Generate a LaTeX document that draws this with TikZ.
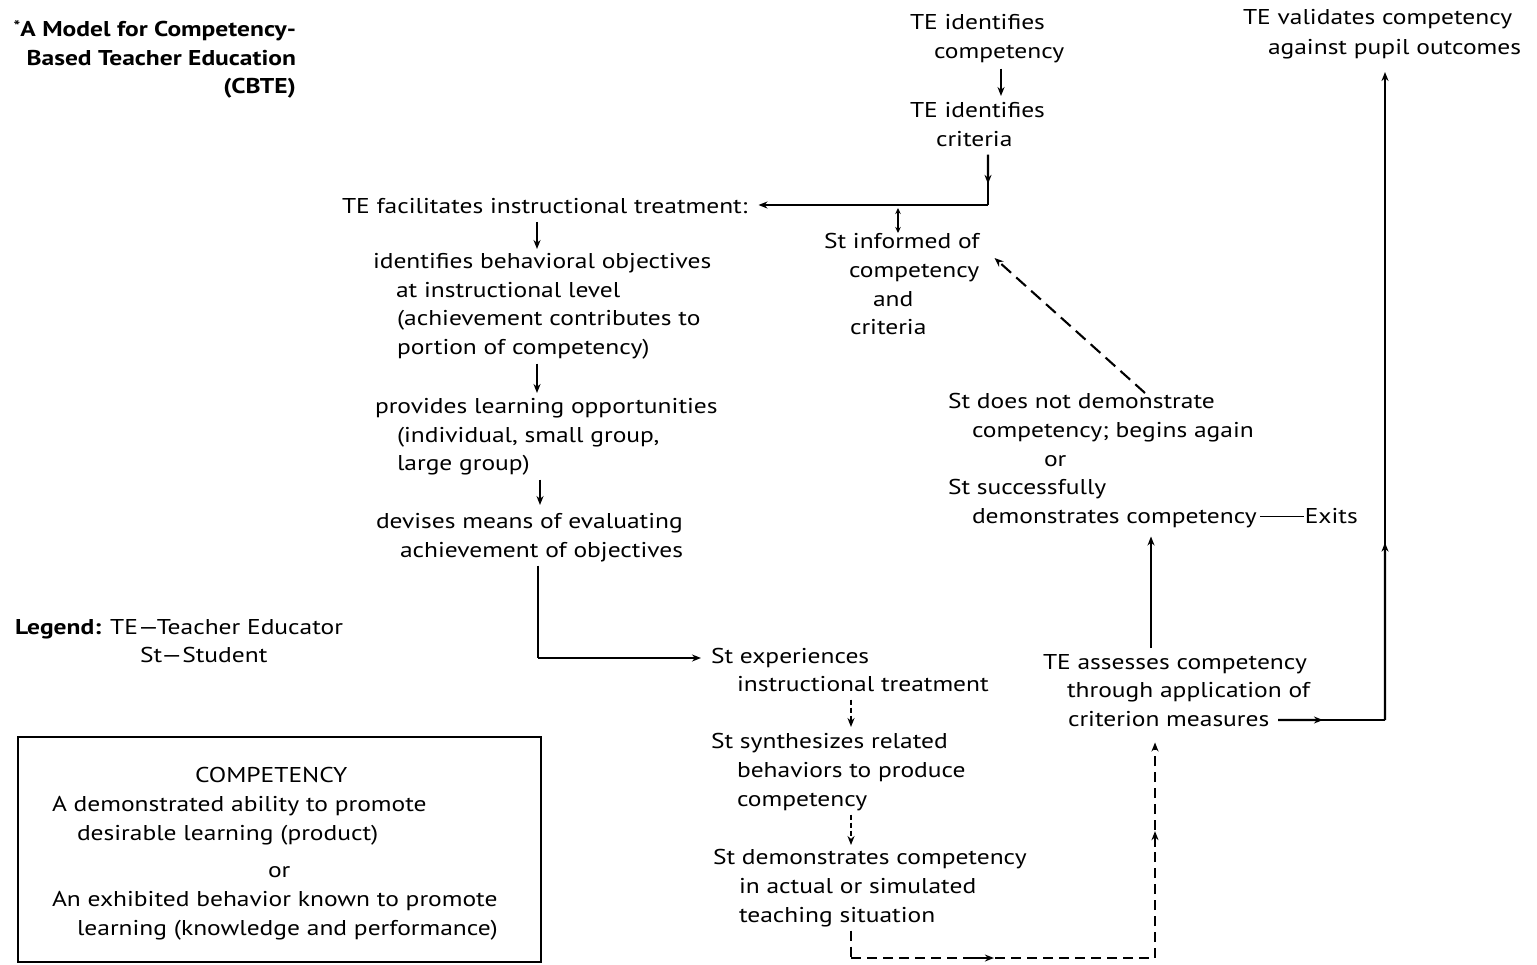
\documentclass[tikz,border=0pt]{standalone}
\usepackage{fontspec}
\setmainfont{PT Sans}[FakeStretch=1.19]
\usetikzlibrary{arrows.meta,calc}
\tikzset{
  txt/.style={inner sep=0pt, outer sep=0pt, anchor=north west, align=left, yshift=-3bp,
    font=\fontsize{21.5}{29}\selectfont,
    execute at begin node=\strut, execute at end node=\strut},
  ln/.style={line width=2.1bp, line cap=butt},
  arr/.style={ln, -{Stealth[length=9bp,width=7bp]}},
  dsh/.style={dash pattern=on 10bp off 6bp},
  ldsh/.style={dash pattern=on 13bp off 7bp},
  sdsh/.style={dash pattern=on 5bp off 3bp},
}
\begin{document}
\begin{tikzpicture}[x=1bp,y=-1bp]
\useasboundingbox (0,0) rectangle (1537,964);

% ---- texts
\node[txt, font=\fontsize{21.5}{28.5}\selectfont\bfseries, align=right, anchor=north east] (title) at (296,18)
  {\raisebox{5bp}{\fontsize{15}{15}\selectfont *}A Model for Competency-\\Based Teacher Education\\(CBTE)};

\node[txt] (c1) at (910,11) {TE identifies\\\hspace*{24bp}competency};
\node[txt] (c2) at (910,99) {TE identifies\\\hspace*{26bp}criteria};
\node[txt, font=\fontsize{21.5}{30}\selectfont] (vd) at (1243,6) {TE validates competency\\\hspace*{25bp}against pupil outcomes};

\node[txt] (fac) at (342,190) {TE facilitates instructional treatment:};
\node[txt] (obj) at (373,250) {identifies behavioral objectives\\\hspace*{23bp}at instructional level\\\hspace*{24bp}(achievement contributes to\\\hspace*{24bp}portion of competency)};
\node[txt] (opp) at (375,395) {provides learning opportunities\\\hspace*{22bp}(individual, small group,\\\hspace*{22bp}large group)};
\node[txt] (dev) at (376,510) {devises means of evaluating\\\hspace*{24bp}achievement of objectives};

\node[txt] (inf) at (824,230) {St informed of\\\hspace*{25bp}competency\\\hspace*{49bp}and\\\hspace*{26bp}criteria};
\node[txt] (dnd) at (948,390) {St does not demonstrate\\\hspace*{24bp}competency; begins again\\\hspace*{96bp}or\\St successfully\\\hspace*{24bp}demonstrates competency\kern3bp\rule[6.5bp]{44bp}{1.8bp}\kern1bp Exits};

\node[txt, font=\fontsize{21.5}{28}\selectfont] (exp) at (711,645) {St experiences\\\hspace*{26bp}instructional treatment};
\node[txt] (syn) at (711,730) {St synthesizes related\\\hspace*{26bp}behaviors to produce\\\hspace*{26bp}competency};
\node[txt] (dem) at (713,846) {St demonstrates competency\\\hspace*{26bp}in actual or simulated\\\hspace*{26bp}teaching situation};
\node[txt] (ass) at (1043,651) {TE assesses competency\\\hspace*{24bp}through application of\\\hspace*{25bp}criterion measures};

\node[txt] (leg) at (15,616) {\textbf{Legend:} TE—Teacher Educator\\\hspace*{125bp}St—Student};

\node[draw, ln, inner sep=0pt, minimum width=523bp, minimum height=225bp] (box) at (279.5,849.5) {};
\node[txt] (comp) at (52,764) {\hspace*{143bp}COMPETENCY\\A demonstrated ability to promote\\\hspace*{25bp}desirable learning (product)\\[9bp]\hspace*{216bp}or\\An exhibited behavior known to promote\\\hspace*{25bp}learning (knowledge and performance)};

% ---- connectors
\draw[arr, shorten <=2bp, shorten >=6bp] (c1.south -| 1001,0) -- (c2.north -| 1001,0);

\coordinate (k1) at (988,205);
\coordinate (k0) at (c2.south -| k1);
\draw[ln] (k0) -- (k1);
\draw[arr] (k0) -- ($(k0)!0.58!(k1)$);
\draw[arr, shorten >=11bp] (k1) -- (k1 -| fac.east);
\draw[ln, {Stealth[length=6bp,width=5.5bp]}-{Stealth[length=6bp,width=5.5bp]}] (898,208) -- (inf.north -| 898,0);

\draw[arr, shorten >=4bp] (fac.south -| 537,0) -- (obj.north -| 537,0);
\draw[arr, shorten >=5bp] (obj.south -| 537,0) -- (opp.north -| 537,0);
\draw[arr, shorten >=8bp] (opp.south -| 540,0) -- (dev.north -| 540,0);

\coordinate (k3) at (538,658);
\draw[ln] (dev.south -| k3) -- (k3);
\draw[arr, shorten >=10bp] (k3) -- (k3 -| exp.west);

\draw[arr, sdsh, shorten >=6bp] (exp.south -| 851,0) -- (syn.north -| 851,0);
\draw[arr, sdsh, shorten >=4bp] (syn.south -| 851,0) -- (dem.north -| 851,0);

\coordinate (k4) at (851,958);
\coordinate (k5) at (1155,958);
\coordinate (k8) at (ass.south -| k5);
\draw[ln, dsh] (dem.south -| k4) -- (k4);
\draw[ln, dsh] (k4) -- (k5);
\draw[arr] ($(k4)!0.40!(k5)$) -- ($(k4)!0.47!(k5)$);
\draw[arr, dsh, shorten >=7bp] (k5) -- (k8);
\draw[arr] ($(k5)!0.50!(k8)$) -- ($(k5)!0.57!(k8)$);

\draw[arr, shorten <=6bp, shorten >=4bp] (ass.north -| 1151,0) -- (dnd.south -| 1151,0);

\coordinate (k7) at (1278,720);
\coordinate (k6) at (1385,720);
\coordinate (k9) at (vd.south -| k6);
\draw[ln] (k7) -- (k6);
\draw[arr] (k7) -- ($(k7)!0.42!(k6)$);
\draw[arr, shorten >=9bp] (k6) -- (k9);
\draw[arr] (k6) -- ($(k6)!0.27!(k9)$);

\draw[arr, ldsh] (dnd.north -| 1145,0) -- ([xshift=15bp,yshift=-25bp]inf.north east);
\end{tikzpicture}
\end{document}
